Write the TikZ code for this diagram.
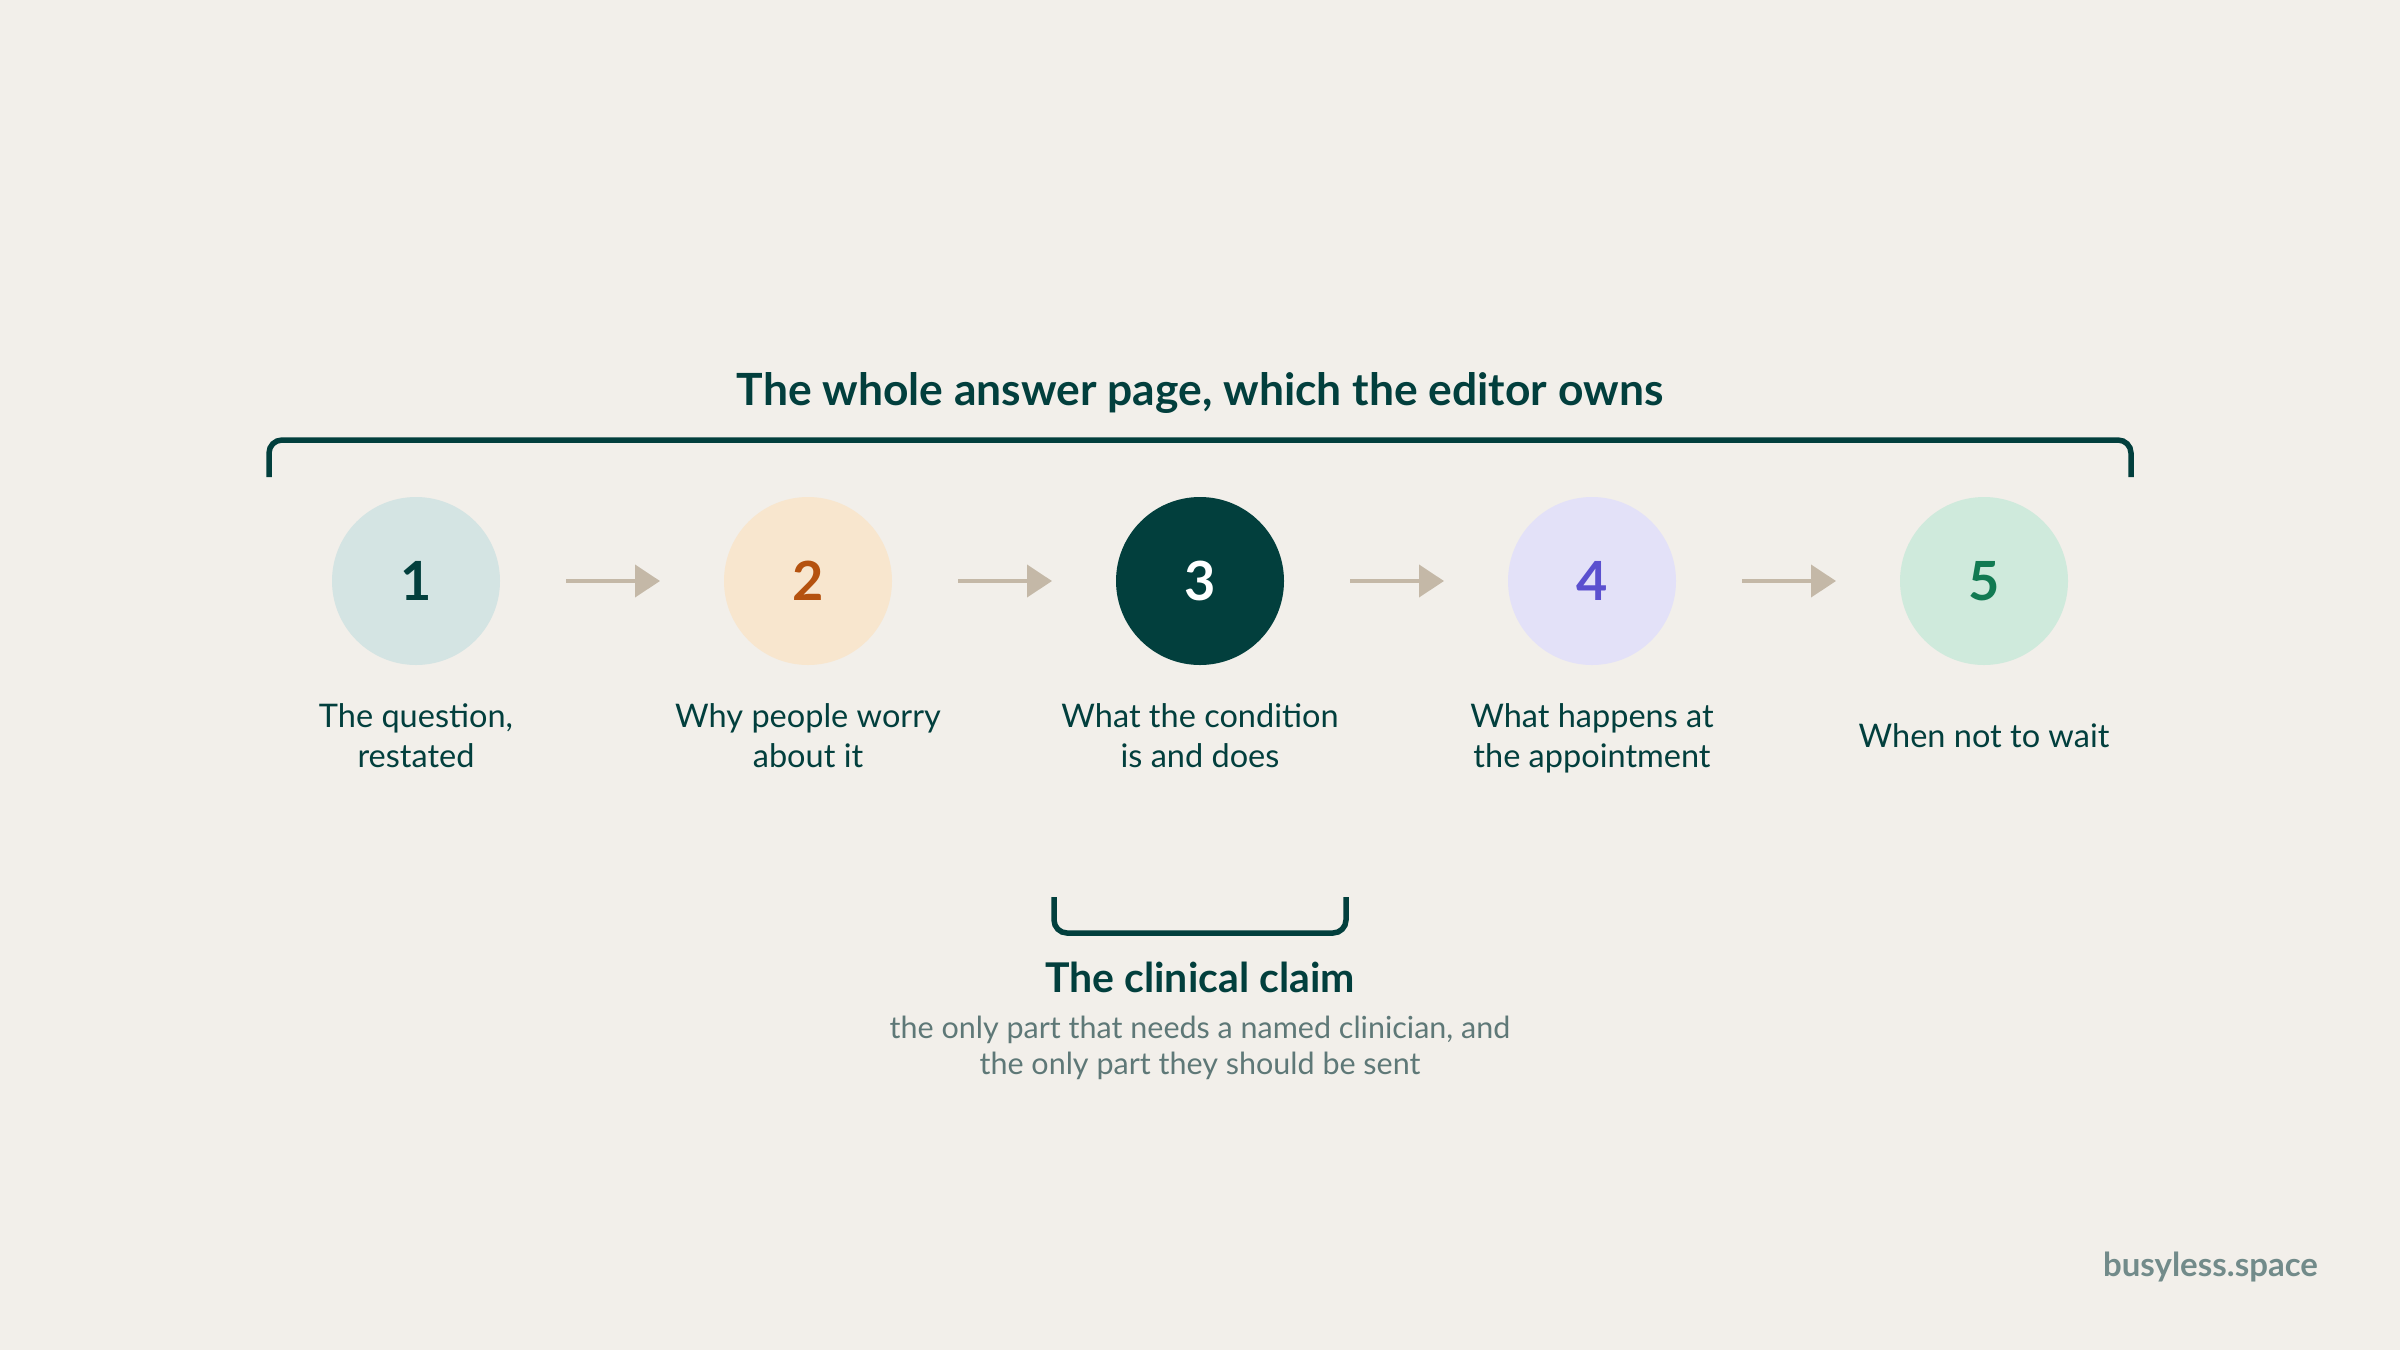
\documentclass[tikz,border=0pt]{standalone}
\usepackage{fontspec}
\setmainfont{Lato}
\usetikzlibrary{arrows.meta}
\definecolor{bg}{HTML}{F2EFEA}
\definecolor{ink}{HTML}{023F3D}
\definecolor{subgray}{HTML}{5E7877}
\definecolor{markgray}{HTML}{728B8A}
\definecolor{arrowc}{HTML}{C4B8A7}
\definecolor{fillA}{HTML}{D4E4E3}
\definecolor{fillB}{HTML}{F8E6CE}
\definecolor{fillD}{HTML}{E3E1F8}
\definecolor{fillE}{HTML}{CFEADC}
\definecolor{numB}{HTML}{B5520F}
\definecolor{numD}{HTML}{5B50CF}
\definecolor{numE}{HTML}{127A52}
\tikzset{
  stepdot/.style={circle, minimum size=168pt, inner sep=0pt, outer sep=0pt, draw=none,
    font=\fontsize{54}{54}\selectfont\bfseries},
  steplbl/.style={align=center, anchor=base, text=ink,
    font=\fontsize{32.5}{40}\selectfont},
  flow/.style={draw=arrowc, line width=4pt, shorten <=66pt, shorten >=64pt,
    -{Triangle[length=25pt,width=32pt]}},
  brack/.style={draw=ink, line width=5.5pt, rounded corners=13pt},
}
\begin{document}
\begin{tikzpicture}[x=1pt,y=-1pt]
\useasboundingbox[fill=bg] (0,0) rectangle (2400,1350);

\node[anchor=base, text=ink, font=\fontsize{44.4}{50}\selectfont\bfseries] (title) at (1200,405) {The whole answer page, which the editor owns};

\coordinate (tbl) at (269,477);
\coordinate (tbr) at (2131,477);
\draw[brack] (tbl) -- (269,440) -- (2131,440) -- (tbr);

\node[stepdot, fill=fillA, text=ink] (c1) at (416,581) {1};
\node[stepdot, fill=fillB, text=numB] (c2) at (808,581) {2};
\node[stepdot, fill=ink, text=white] (c3) at (1200,581) {3};
\node[stepdot, fill=fillD, text=numD] (c4) at (1592,581) {4};
\node[stepdot, fill=fillE, text=numE] (c5) at (1984,581) {5};

\draw[flow] (c1) -- (c2);
\draw[flow] (c2) -- (c3);
\draw[flow] (c3) -- (c4);
\draw[flow] (c4) -- (c5);

\node[steplbl] (l1) at (416,767) {The question,\\restated};
\node[steplbl] (l2) at (808,767) {Why people worry\\about it};
\node[steplbl] (l3) at (1200,767) {What the condition\\is and does};
\node[steplbl] (l4) at (1592,767) {What happens at\\the appointment};
\node[steplbl] (l5) at (1984,747) {When not to wait};

\coordinate (bbl) at (1054,897);
\coordinate (bbr) at (1346,897);
\draw[brack] (bbl) -- (1054,933) -- (1346,933) -- (bbr);

\node[anchor=base, text=ink, font=\fontsize{41}{46}\selectfont\bfseries] (claim) at (1200,992) {The clinical claim};
\node[anchor=base, align=center, text=subgray, font=\fontsize{30.5}{36}\selectfont] (claimsub) at (1200,1074) {the only part that needs a named clinician, and\\the only part they should be sent};

\node[anchor=base east, inner sep=0pt, text=markgray, font=\fontsize{33}{36}\selectfont\bfseries] (mark) at (2318,1276) {busyless.space};
\end{tikzpicture}
\end{document}
